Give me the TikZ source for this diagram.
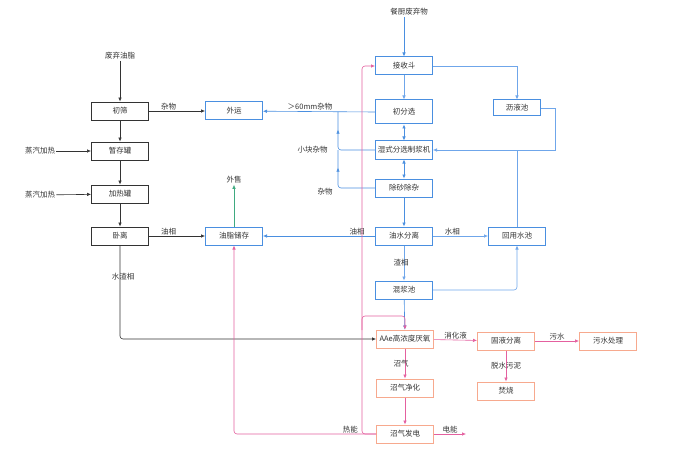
\documentclass[tikz,border=0pt]{standalone}
\usepackage{fontspec}
\setmainfont{Noto Sans CJK SC}
\usepackage{xcolor}
\usetikzlibrary{arrows.meta}
\usetikzlibrary{calc}
\usetikzlibrary{positioning}
\usetikzlibrary{decorations.markings}
\definecolor{kcol}{HTML}{333333}
\definecolor{bcol}{HTML}{4A8FE0}
\definecolor{lbcol}{HTML}{6FA6EA}
\definecolor{pcol}{HTML}{E4609F}
\definecolor{ocol}{HTML}{F7A98E}
\definecolor{gcol}{HTML}{3FAA80}
\begin{document}
\begin{tikzpicture}[x=1pt,y=-1pt,>={Latex[length=4pt,width=3.5pt]},font=\fontsize{7.5}{9}\selectfont,semithick]
		\tikzstyle{box}=[draw, fill=white, inner sep=0pt, minimum width=57, minimum height=18, text=kcol]
		\tikzstyle{blk}=[box, draw=kcol, line width=0.9pt]
		\tikzstyle{blu}=[box, draw=bcol, line width=1pt]
		\tikzstyle{org}=[box, draw=ocol, line width=1pt]
		\tikzstyle{txt}=[inner sep=1pt, text=kcol]
		\tikzstyle{kline}=[draw=kcol, ->]
		\tikzstyle{bline}=[draw=bcol, ->]
		\tikzstyle{lline}=[draw=lbcol, ->]
		\tikzstyle{pline}=[draw=pcol, ->]
		\tikzstyle{midup}=[postaction={decorate, decoration={markings, mark=at position 0.76 with {\arrow{Latex[length=4pt,width=3.5pt]}}}}]
		\useasboundingbox (0,0) rectangle (689,452);
			\node[txt] (0) at (120,56) {废弃油脂};
			\node[blk] (1) at (120,111) {初筛};
			\node[blk] (2) at (120,151) {暂存罐};
			\node[blk] (3) at (120,194) {加热罐};
			\node[blk] (4) at (120,236) {卧离};
			\node[txt] (5) at (40,151) {蒸汽加热};
			\node[txt] (6) at (40,195) {蒸汽加热};
			\node[blu] (7) at (234,111) {外运};
			\node[blu] (8) at (234,236) {油脂储存};
			\node[txt] (9) at (234,180) {外售};
			\node[txt] (10) at (409,12) {餐厨废弃物};
			\node[blu] (11) at (404,66) {接收斗};
			\node[blu, minimum height=24] (12) at (404,112) {初分选};
			\node[blu, minimum width=47, minimum height=16] (13) at (517,108) {沥液池};
			\node[blu] (14) at (404,150) {湿式分选制浆机};
			\node[blu] (15) at (404,188) {除砂除杂};
			\node[blu] (16) at (404,236) {油水分离};
			\node[blu] (17) at (517,236) {回用水池};
			\node[blu] (18) at (404,290) {混浆池};
			\node[org] (19) at (405,339) {AAe高浓度厌氧};
			\node[org] (20) at (506,341) {固液分离};
			\node[org] (21) at (608,341) {污水处理};
			\node[org] (22) at (405,388) {沼气净化};
			\node[org] (23) at (506,391) {焚烧};
			\node[org] (24) at (405,434) {沼气发电};
			\coordinate (j1) at (338,150);
			\coordinate (j2) at (338,188);
			\coordinate (c1) at (555,150);
			\coordinate (p1) at (362,434);
			\coordinate (p2) at (362,66);
			\coordinate (p3) at (362,330);
			\coordinate (p4) at (362,316);
			\coordinate (e1) at (466,434);

			\draw[kline] (0) -- (1);
			\draw[kline] (1) -- (2);
			\draw[kline] (2) -- (3);
			\draw[kline] (3) -- (4);
			\draw[kline] (5) -- (2);
			\draw[kline] (6) -- (3);
			\draw[kline] (1) -- node[txt, above, pos=0.35] {杂物} (7);
			\draw[kline] (4) -- node[txt, above, pos=0.35] {油相} (8);
			\draw[kline, rounded corners=3] (4) -- node[txt, pos=0.33, xshift=3pt] {水渣相} (4 |- 19) -- (19);
			\draw[draw=gcol, ->] (8) -- (9);

			\draw[bline] (11.north |- 10.south) -- (11);
			\draw[lline] (11) -- (12);
			\draw[lline] (11) -| (13);
			\draw[lline] (13.east) -| (c1) -- (14);
			\draw[draw=lbcol] (17) -- (17 |- c1);
			\draw[bline, <->] (12) -- (14);
			\draw[bline, <->] (14) -- (15);
			\draw[bline] (15) -- (16);
			\draw[bline] (12.west) -- node[txt, above, pos=0.58] {＞60mm杂物} (7);
			\draw[draw=bcol, rounded corners=3, midup] (14.west) -- (j1) node[txt, left=9pt] {小块杂物} -- (12.west -| j1);
			\draw[draw=bcol, rounded corners=3, midup] (15.west) -- (j2) node[txt, left=4pt, yshift=-4pt] {杂物} -- (j1);
			\draw[bline] (16) -- node[txt, above, pos=0.16] {油相} (8);
			\draw[lline] (16) -- node[txt, above, pos=0.35] {水相} (17);
			\draw[lline] (16) -- node[txt, xshift=-3pt] {渣相} (18);
			\draw[lline, rounded corners=3] (18) -| (17);
			\draw[bline] (18) -- (19);

			\draw[pline, rounded corners=3] (24) -| node[txt, above, pos=0.09] {热能} (8);
			\draw[pline, rounded corners=3] (24.west) -- (p1) -- (p2) -- (11);
			\draw[pline, rounded corners=3] (p3) -- (p4) -- (p4 -| 19) -- (19);
			\draw[pline] (19) -- node[txt, above] {消化液} (20);
			\draw[pline] (20) -- node[txt, above] {污水} (21);
			\draw[pline] (19) -- node[txt, xshift=-4pt] {沼气} (22);
			\draw[pline] (20) -- node[txt] {脱水污泥} (23);
			\draw[pline] (22) -- (24);
			\draw[pline] (24) -- node[txt, above] {电能} (e1);
 	\end{tikzpicture}
\end{document}
